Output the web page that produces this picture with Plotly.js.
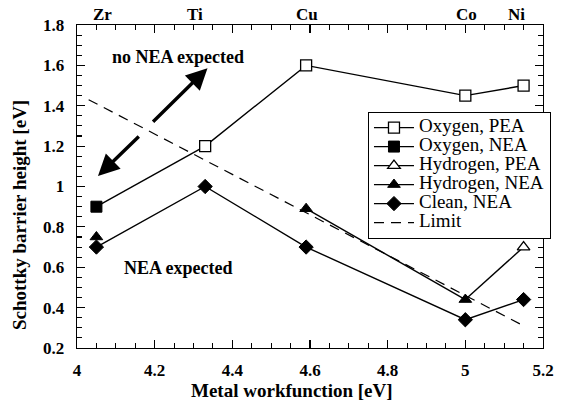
<!DOCTYPE html>
<html>
<head>
<meta charset="utf-8">
<script src="https://cdn.plot.ly/plotly-3.0.1.min.js"></script>
<style>html,body{margin:0;padding:0;background:#fff;}#chart{width:565px;height:409px;}</style>
</head>
<body>
<div id="chart"></div>
<script>
// Metal workfunctions (eV) and labels
var metals = ['Zr', 'Ti', 'Cu', 'Co', 'Ni'];
var workfunction = [4.05, 4.33, 4.59, 5.0, 5.15];
var metalLabelX = [4.066, 4.303, 4.592, 5.004, 5.133];

// Schottky barrier heights (eV)
var oxygenPEA_x = [4.33, 4.59, 5.0, 5.15];
var oxygenPEA_y = [1.2, 1.6, 1.45, 1.5];
var oxygenNEA_x = [4.05];
var oxygenNEA_y = [0.9];
var hydrogenPEA_x = [5.15];
var hydrogenPEA_y = [0.7];
var hydrogenNEA_x = [4.05, 4.05, 4.59, 5.0];
var hydrogenNEA_y = [0.75, null, 0.89, 0.44];
var cleanNEA_x = [4.05, 4.33, 4.59, 5.0, 5.15];
var cleanNEA_y = [0.7, 1.0, 0.7, 0.34, 0.44];
var limit_x = [4.03, 5.15];
var limit_y = [1.43, 0.31];
// connecting segments between NEA and PEA points of the same adsorbate
var oxygenLink_x = [4.05, 4.33];
var oxygenLink_y = [0.9, 1.2];
var hydrogenLink_x = [5.0, 5.15];
var hydrogenLink_y = [0.44, 0.7];

var serif = 'Liberation Serif';
var lw = 1.4;
var line = {color: 'black', width: lw};

function lg(name) { return '<span style="font-size:19px">' + name + '</span>'; }

var traces = [
  {x: oxygenLink_x, y: oxygenLink_y, mode: 'lines', line: line, showlegend: false, hoverinfo: 'skip'},
  {x: hydrogenLink_x, y: hydrogenLink_y, mode: 'lines', line: line, showlegend: false, hoverinfo: 'skip'},
  {x: limit_x, y: limit_y, mode: 'lines', name: lg('Limit'), legendrank: 6,
   line: {color: 'black', width: 1.2, dash: '10px,7px'}},
  {x: oxygenPEA_x, y: oxygenPEA_y, mode: 'lines+markers', name: lg('Oxygen, PEA'), legendrank: 1, line: line,
   marker: {symbol: 'square', size: 11, color: 'white', line: {color: 'black', width: 1.3}}},
  {x: oxygenNEA_x, y: oxygenNEA_y, mode: 'lines+markers', name: lg('Oxygen, NEA'), legendrank: 2, line: line,
   marker: {symbol: 'square', size: 11, color: 'black', line: {color: 'black', width: 1}}},
  {x: hydrogenPEA_x, y: hydrogenPEA_y, mode: 'lines+markers', name: lg('Hydrogen, PEA'), legendrank: 3, line: line,
   marker: {symbol: 'triangle-up', size: 11, color: 'white', line: {color: 'black', width: 1.3}}},
  {x: hydrogenNEA_x, y: hydrogenNEA_y, mode: 'lines+markers', name: lg('Hydrogen, NEA'), legendrank: 4, line: line,
   connectgaps: false,
   marker: {symbol: 'triangle-up', size: 11, color: 'black', line: {color: 'black', width: 1}}},
  {x: cleanNEA_x, y: cleanNEA_y, mode: 'lines+markers', name: lg('Clean, NEA'), legendrank: 5, line: line,
   marker: {symbol: 'diamond', size: 11, color: 'black', line: {color: 'black', width: 1}}}
];

var annotations = metals.map(function (m, i) {
  return {x: metalLabelX[i], xref: 'x', y: 1, yref: 'paper', yanchor: 'bottom', showarrow: false,
          text: '<b>' + m + '</b>', font: {family: serif, size: 17, color: 'black'}, yshift: -1};
});
annotations.push(
  {x: 4.26, y: 1.64, xref: 'x', yref: 'y', showarrow: false, text: '<b>no NEA expected</b>',
   font: {family: serif, size: 18, color: 'black'}},
  {x: 4.26, y: 0.595, xref: 'x', yref: 'y', showarrow: false, text: '<b>NEA expected</b>',
   font: {family: serif, size: 18, color: 'black'}},
  {x: 4.336, y: 1.586, ax: 4.192, ay: 1.313, xref: 'x', yref: 'y', axref: 'x', ayref: 'y',
   text: '', showarrow: true, arrowhead: 2, arrowsize: 1.25, arrowwidth: 3.4, arrowcolor: 'black', standoff: 0, startstandoff: 0},
  {x: 4.054, y: 1.052, ax: 4.163, ay: 1.255, xref: 'x', yref: 'y', axref: 'x', ayref: 'y',
   text: '', showarrow: true, arrowhead: 2, arrowsize: 1.25, arrowwidth: 3.4, arrowcolor: 'black', standoff: 0, startstandoff: 0},
  // axis titles
  {x: 0.461, y: -0.133, xref: 'paper', yref: 'paper', xanchor: 'center', yanchor: 'middle', showarrow: false,
   text: '<b>Metal workfunction [eV]</b>', font: {family: serif, size: 19, color: 'black'}},
  {x: -0.122, y: 0.412, xref: 'paper', yref: 'paper', xanchor: 'center', yanchor: 'middle', showarrow: false, textangle: -90,
   text: '<b>Schottky barrier height [eV]</b>', font: {family: serif, size: 19, color: 'black'}}
);

var axisCommon = {
  showgrid: false, zeroline: false, showline: true, linecolor: 'black', linewidth: 1.3,
  mirror: 'allticks', ticks: 'inside', ticklen: 8, tickwidth: 1.2, tickcolor: 'black',
  tickfont: {family: serif, size: 17, color: 'black', weight: 'bold'}
};

var layout = {
  width: 565, height: 409,
  font: {family: serif, color: 'black'},
  margin: {l: 77, r: 22, t: 25, b: 61},
  paper_bgcolor: 'white', plot_bgcolor: 'white',
  showlegend: true,
  legend: {x: 0.624, y: 0.731, xanchor: 'left', yanchor: 'top', bgcolor: 'white',
           bordercolor: 'black', borderwidth: 1.2,
           font: {family: serif, size: 11, color: 'black'}, itemwidth: 40, traceorder: 'normal'},
  xaxis: Object.assign({}, axisCommon, {
    range: [4, 5.2], dtick: 0.2, tick0: 4, ticklabelstandoff: 6,
    minor: {dtick: 0.05, ticks: 'inside', ticklen: 5, tickcolor: 'black', tickwidth: 1.1}
  }),
  yaxis: Object.assign({}, axisCommon, {
    range: [0.2, 1.8], dtick: 0.2, tick0: 0.2, ticklabelstandoff: 8,
    minor: {dtick: 0.05, ticks: 'inside', ticklen: 5, tickcolor: 'black', tickwidth: 1.1}
  }),
  annotations: annotations
};

Plotly.newPlot('chart', traces, layout, {displayModeBar: false, staticPlot: true});
</script>
</body>
</html>
